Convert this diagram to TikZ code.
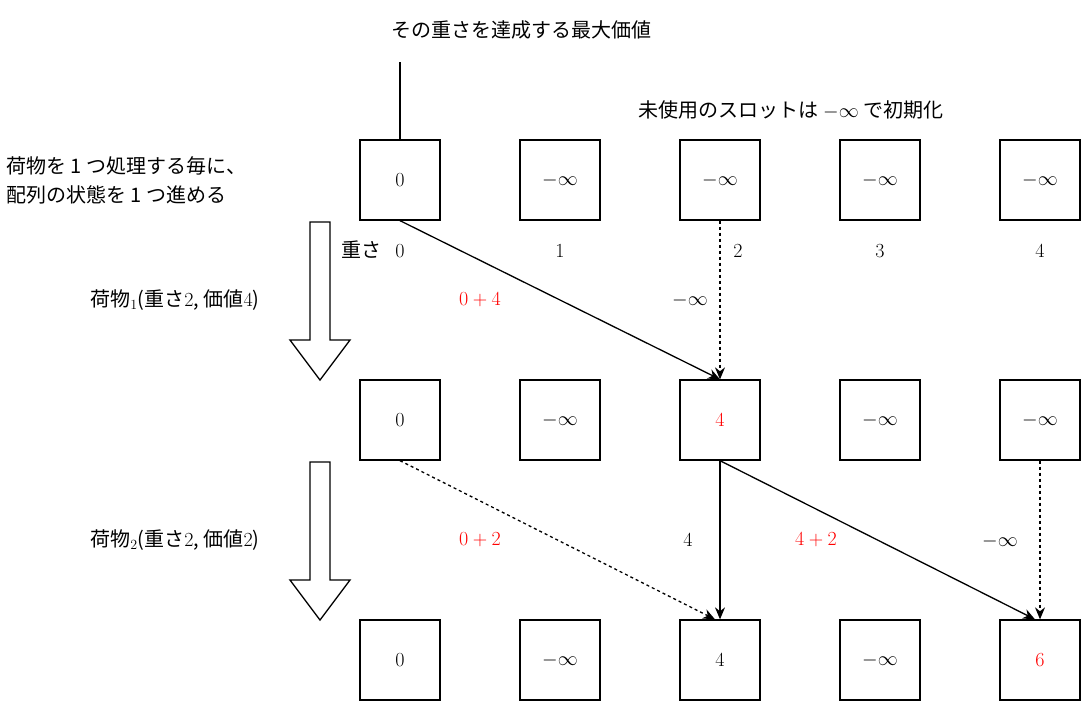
\documentclass[tikz,border=0pt]{standalone}
\usepackage{fix-cm}
\usepackage{fontspec}
\newfontfamily\jp{Noto Sans CJK JP}
\usetikzlibrary{arrows.meta}
\begin{document}
\begin{tikzpicture}[x=1pt,y=-1pt,
  cell/.style={draw,line width=1.3pt,minimum size=80pt,inner sep=0pt,font=\fontsize{20}{24}\selectfont},
  lbl/.style={font=\fontsize{20}{24}\selectfont},
  jt/.style={font=\jp\fontsize{20}{29}\selectfont},
  arr/.style={line width=1.3pt,-{Stealth[length=12pt,width=10pt]}},
  darr/.style={arr,dashed},
  hollow/.style={draw,line width=1.3pt,fill=white}]
\useasboundingbox (0,0) rectangle (1082,702);
\def\ninf{$-\infty$}
% row 1
\node[cell] (a0) at (400,180) {$0$};
\node[cell] (a1) at (560,180) {\ninf};
\node[cell] (a2) at (720,180) {\ninf};
\node[cell] (a3) at (880,180) {\ninf};
\node[cell] (a4) at (1040,180) {\ninf};
% row 2
\node[cell] (b0) at (400,420) {$0$};
\node[cell] (b1) at (560,420) {\ninf};
\node[cell,text=red] (b2) at (720,420) {$4$};
\node[cell] (b3) at (880,420) {\ninf};
\node[cell] (b4) at (1040,420) {\ninf};
% row 3
\node[cell] (c0) at (400,660) {$0$};
\node[cell] (c1) at (560,660) {\ninf};
\node[cell] (c2) at (720,660) {$4$};
\node[cell] (c3) at (880,660) {\ninf};
\node[cell,text=red] (c4) at (1040,660) {$6$};
% weights
\node[lbl] (w0) at (400,251) {$0$};
\node[jt,anchor=east] (wl) at (385,250) {重さ};
\node[lbl] (w1) at (560,251) {$1$};
\node[lbl] (w2) at (738,251) {$2$};
\node[lbl] (w3) at (880,251) {$3$};
\node[lbl] (w4) at (1040,251) {$4$};
% top texts
\coordinate (top) at (400,62);
\draw[line width=1.3pt] (a0.north) -- (top);
\node[jt] (t1) at (521,30) {その重さを達成する最大価値};
\node[jt] (t2) at (791,110) {未使用のスロットは \ninf{} で初期化};
\node[jt,anchor=west,align=left] (t3) at (3,180) {荷物を 1 つ処理する毎に、\\配列の状態を 1 つ進める};
% edges 1->2
\draw[arr] (a0.south) -- (b2.north);
\draw[darr] (a2.south) -- (b2.north);
\node[lbl,text=red] (l1) at (480,300) {$0+4$};
\node[lbl] (l2) at (690,300) {\ninf};
% edges 2->3
\draw[darr] (b0.south) -- ([xshift=-5pt]c2.north);
\draw[arr] (b2.south) -- (c2.north);
\draw[arr] (b2.south) -- ([xshift=-5pt]c4.north);
\draw[darr] (b4.south) -- (c4.north);
\node[lbl,text=red] (l3) at (480,540) {$0+2$};
\node[lbl] (l4) at (688,540) {$4$};
\node[lbl,text=red] (l5) at (816,540) {$4+2$};
\node[lbl] (l6) at (1000,541) {\ninf};
% hollow arrows
\draw[hollow] (310,222) -- (330,222) -- (330,340) -- (350,340) -- (320,380) -- (290,340) -- (310,340) -- cycle;
\draw[hollow] (310,462) -- (330,462) -- (330,580) -- (350,580) -- (320,620) -- (290,580) -- (310,580) -- cycle;
\node[jt] (g1) at (175,300) {荷物$_1$(重さ$2$, 価値$4$)};
\node[jt] (g2) at (175,540) {荷物$_2$(重さ$2$, 価値$2$)};
\end{tikzpicture}
\end{document}
